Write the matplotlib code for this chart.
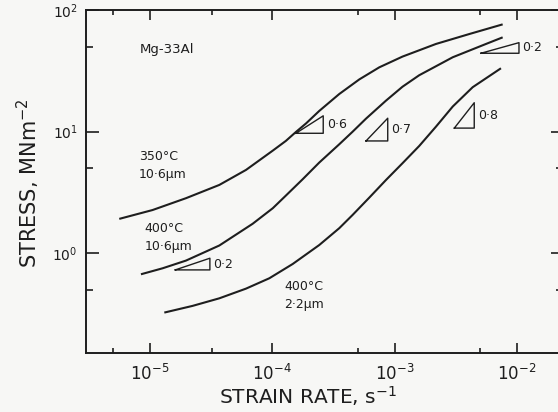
import matplotlib
matplotlib.use("Agg")
import matplotlib.pyplot as plt

# ---- data ----
rate_350_106 = [5.61e-6, 1.05e-5, 1.97e-5, 3.69e-5, 6.10e-5, 1.01e-4, 1.29e-4, 1.56e-4, 1.89e-4,
                2.42e-4, 3.53e-4, 5.15e-4, 7.50e-4, 1.16e-3, 2.18e-3, 4.09e-3, 7.65e-3]
stress_350_106 = [1.92, 2.27, 2.84, 3.65, 4.85, 6.99, 8.39, 9.94, 11.7,
                  14.8, 20.4, 26.9, 33.8, 41.4, 52.6, 63.5, 76.2]

rate_400_106 = [8.44e-6, 1.27e-5, 1.97e-5, 3.69e-5, 6.91e-5, 1.01e-4, 1.29e-4, 1.77e-4, 2.42e-4,
                3.53e-4, 4.54e-4, 5.84e-4, 8.51e-4, 1.16e-3, 1.59e-3, 2.99e-3, 5.59e-3, 7.65e-3]
stress_400_106 = [0.673, 0.754, 0.872, 1.16, 1.75, 2.35, 2.98, 4.06, 5.57,
                  7.88, 10.0, 12.8, 18.0, 23.4, 29.1, 40.9, 52.6, 59.6]

rate_400_22 = [1.31e-5, 2.23e-5, 3.69e-5, 6.10e-5, 9.46e-5, 1.47e-4, 2.42e-4, 3.53e-4, 4.54e-4,
               6.21e-4, 8.51e-4, 1.16e-3, 1.59e-3, 2.18e-3, 2.99e-3, 4.35e-3, 7.41e-3]
stress_400_22 = [0.326, 0.370, 0.427, 0.513, 0.624, 0.818, 1.17, 1.61, 2.07,
                 2.87, 4.01, 5.50, 7.63, 11.0, 16.1, 23.2, 33.2]

# slope triangles: x_left, x_right, y_bottom, y_top, label
tri_x0 = [1.56e-4, 5.84e-4, 3.08e-3, 5.08e-3, 1.61e-5]
tri_x1 = [2.61e-4, 8.79e-4, 4.48e-3, 1.04e-2, 3.09e-5]
tri_y0 = [9.70, 8.39, 10.7, 44.1, 0.731]
tri_y1 = [13.5, 12.9, 17.3, 53.9, 0.912]
tri_labels = ["0·6", "0·7", "0·8", "0·2", "0·2"]

x_major = [1e-5, 1e-4, 1e-3, 1e-2]
x_major_labels = ["$10^{-5}$", "$10^{-4}$", "$10^{-3}$", "$10^{-2}$"]
x_minor = [5e-6, 3.2e-5, 5e-4, 5e-3]
y_major = [1, 10, 100]
y_major_labels = ["$10^{0}$", "$10^{1}$", "$10^{2}$"]
y_minor = [0.5, 5, 50]

ink = "#1e1e1e"
bg = "#f7f7f5"

W, H = 558, 412
fig = plt.figure(figsize=(W / 100, H / 100), dpi=100, facecolor=bg)
ax = fig.add_axes([86 / W, (H - 353) / H, (563 - 86) / W, (353 - 10) / H], facecolor=bg)
ax.set_xscale("log")
ax.set_yscale("log")
ax.set_xlim(10 ** -5.523, 10 ** -1.623)
ax.set_ylim(10 ** -0.819, 100)

for xs, ys in [(rate_350_106, stress_350_106), (rate_400_106, stress_400_106), (rate_400_22, stress_400_22)]:
    ax.plot(xs, ys, color=ink, lw=1.5, solid_capstyle="butt", solid_joinstyle="round")

for x0, x1, y0, y1, lab in zip(tri_x0, tri_x1, tri_y0, tri_y1, tri_labels):
    ax.plot([x0, x1, x1, x0], [y0, y0, y1, y0], color=ink, lw=1.0)
    ym = (y0 * y1) ** 0.5
    ax.annotate(lab, (x1, ym), xytext=(2.5, 0), textcoords="offset points",
                ha="left", va="center", fontsize=9, color=ink)

ax.text(8.18e-6, 47.5, "Mg-33Al", fontsize=9.5, color=ink, ha="left", va="center")
ax.text(8.09e-6, 5.23, "350°C\n10·6µm", fontsize=9, color=ink, ha="left", va="center", linespacing=1.5)
ax.text(8.98e-6, 1.36, "400°C\n10·6µm", fontsize=9, color=ink, ha="left", va="center", linespacing=1.5)
ax.text(1.25e-4, 0.451, "400°C\n2·2µm", fontsize=9, color=ink, ha="left", va="center", linespacing=1.5)

ax.set_xticks(x_major, labels=x_major_labels)
ax.set_xticks(x_minor, minor=True)
ax.set_xticklabels([], minor=True)
ax.set_yticks(y_major, labels=y_major_labels)
ax.set_yticks(y_minor, minor=True)
ax.set_yticklabels([], minor=True)

ax.tick_params(which="both", direction="in", top=True, right=True, color=ink, labelcolor=ink)
ax.tick_params(axis="x", which="major", length=7, width=1.2, labelsize=12, pad=8)
ax.tick_params(axis="x", which="minor", length=3.5, width=1.2)
ax.tick_params(axis="y", which="major", length=9, width=1.2, labelsize=10, pad=6)
ax.tick_params(axis="y", which="minor", length=5, width=1.2)
for s in ax.spines.values():
    s.set_color(ink)
    s.set_linewidth(1.4)

ax.set_xlabel("STRAIN RATE, s$^{-1}$", fontsize=14.5, color=ink)
ax.xaxis.set_label_coords((308 - 86) / (563 - 86), -(384 - 353) / (353 - 10))
ax.set_ylabel("STRESS, MNm$^{-2}$", fontsize=15, color=ink)
ax.yaxis.set_label_coords(-(86 - 42) / (563 - 86), (353 - 183) / (353 - 10))

fig.savefig("out.png", dpi=100, facecolor=bg)
